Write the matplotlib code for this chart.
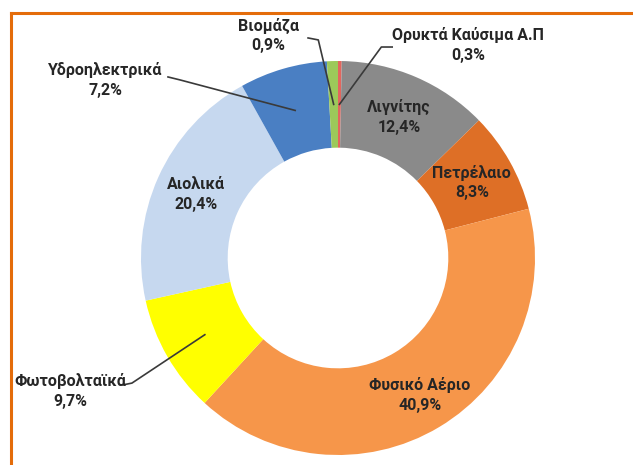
import numpy as np
import matplotlib
matplotlib.use("Agg")
import matplotlib.pyplot as plt
from matplotlib.lines import Line2D

plt.rcParams['font.family'] = ['Roboto', 'DejaVu Sans']

# energy mix shares, clockwise from 12 o'clock
labels = ["Ορυκτά Καύσιμα Α.Π", "Λιγνίτης", "Πετρέλαιο", "Φυσικό Αέριο",
          "Φωτοβολταϊκά", "Αιολικά", "Υδροηλεκτρικά", "Βιομάζα"]
shares = [0.3, 12.4, 8.3, 40.9, 9.7, 20.4, 7.2, 0.9]
pct_text = ["0,3%", "12,4%", "8,3%", "40,9%", "9,7%", "20,4%", "7,2%", "0,9%"]
colors = ["#e2665e", "#8a8a8a", "#de6f26", "#f6964a",
          "#ffff00", "#c6d8ef", "#4a7fc3", "#9cc95a"]

inside = {"Λιγνίτης": 0.78, "Πετρέλαιο": 0.78, "Φυσικό Αέριο": 0.81, "Αιολικά": 0.79}
# outside labels: text centre, and leader start/elbow (axes data units)
outside = {
    "Βιομάζα": ((-0.355, 1.13), [(-0.152, 1.117), (-0.10, 1.107)]),
    "Ορυκτά Καύσιμα Α.Π": ((0.66, 1.08), [(0.275, 1.071), (0.22, 1.071)]),
    "Υδροηλεκτρικά": ((-1.18, 0.905), [(-0.863, 0.919), (-0.802, 0.904)]),
    "Φωτοβολταϊκά": ((-1.36, -0.675), [(-1.096, -0.645), (-1.046, -0.635)]),
}

W, H = 633, 465
fig = plt.figure(figsize=(W / 100, H / 100), dpi=100)
fig.patch.set_facecolor("white")

# orange frame (top and left only)
fig.add_artist(Line2D([11 / W, 1], [1 - 13 / H, 1 - 13 / H], color="#e46c0a", lw=2.2))
fig.add_artist(Line2D([11 / W, 11 / W], [0, 1 - 13 / H], color="#e46c0a", lw=2.2))

cx, cy, R = 338, 258, 197
ax = fig.add_axes([(cx - R) / W, (H - cy - R) / H, 2 * R / W, 2 * R / H])
wedges, _ = ax.pie(shares, colors=colors, startangle=90, counterclock=False,
                   radius=1, wedgeprops=dict(width=0.44, edgecolor="none"))
ax.set_xlim(-1, 1)
ax.set_ylim(-1, 1)
ax.set_axis_off()

txt_kw = dict(ha="center", va="center", fontsize=11.5, fontweight="bold",
              color="#262626", linespacing=1.4)

for w, lab, pt in zip(wedges, labels, pct_text):
    mid = np.deg2rad((w.theta1 + w.theta2) / 2)
    if lab in inside:
        r = inside[lab]
        ax.text(r * np.cos(mid), r * np.sin(mid), f"{lab}\n{pt}", **txt_kw)
    else:
        (tx, ty), pts = outside[lab]
        ax.text(tx, ty, f"{lab}\n{pt}", clip_on=False, **txt_kw)
        end = (0.78 * np.cos(mid), 0.78 * np.sin(mid))
        xs = [p[0] for p in pts] + [end[0]]
        ys = [p[1] for p in pts] + [end[1]]
        ax.plot(xs, ys, color="#3a3a3a", lw=1.2, clip_on=False)

fig.savefig("out.png", dpi=100, facecolor="white")
